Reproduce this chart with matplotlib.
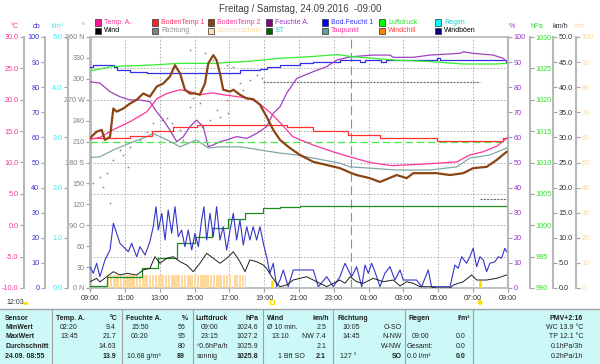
import matplotlib
matplotlib.use('Agg')
import matplotlib.pyplot as plt
from matplotlib.patches import Rectangle, Ellipse

plt.rcParams['font.family'] = ['Liberation Sans', 'DejaVu Sans']

# ---------------- data (hours after 09:00 Friday) ----------------
hour_ticks = list(range(0, 25, 2))
hour_labels = ['09:00', '11:00', '13:00', '15:00', '17:00', '19:00', '21:00',
               '23:00', '01:00', '03:00', '05:00', '07:00', '09:00']

temp_t = [0, 0.57, 1.32, 2.3, 3.27, 3.85, 4.42, 5.17, 5.74, 6.31, 7.06, 7.63, 8.44, 9.18,
          9.76, 10.33, 10.9, 11.65, 12.8, 13.95, 14.93, 16.07, 17.33, 19.5, 21.07, 21.8,
          22.56, 23.36, 23.94]
temp_v = [13.7, 14.0, 15.2, 16.5, 18.1, 20.2, 21.0, 21.6, 21.3, 20.8, 21.1, 20.8, 20.5, 20.2,
          19.3, 18.0, 16.4, 14.1, 12.8, 11.7, 10.9, 10.0, 9.5, 9.8, 10.1, 11.2, 11.7, 12.6, 13.9]

soil1_t = [0, 2.3, 3.54, 4.78, 6.12, 11.29, 12.82, 14.83, 16.65, 19.9, 23.7, 24]
soil1_v = [13.9, 14.3, 15.0, 15.6, 16.0, 15.6, 15.0, 14.4, 13.9, 13.4, 13.9, 13.9]

soil2_t = [0, 0.38, 0.67, 0.86, 1.15, 1.34, 1.53, 1.91, 2.3, 2.68, 3.06, 3.44, 3.83, 4.21,
           4.59, 4.88, 5.17, 5.45, 5.74, 6.03, 6.31, 6.6, 6.79, 7.08, 7.27, 7.46, 7.65, 8.04,
           8.23, 8.61, 9.0, 9.37, 9.76, 10.14, 10.52, 10.91, 11.48, 12.06, 12.82, 13.59,
           14.35, 14.93, 15.31, 16.07, 16.65, 17.61, 18.18, 18.56, 19.9, 20.67, 21.43, 22.0,
           22.77, 23.35, 23.92]
soil2_v = [13.9, 14.9, 15.2, 13.6, 14.1, 18.6, 18.1, 18.6, 19.4, 20.0, 21.0, 20.5, 22.1, 22.6,
           23.7, 25.5, 24.2, 21.6, 21.0, 21.0, 20.8, 22.6, 25.8, 27.1, 26.3, 24.2, 21.6, 21.3,
           21.6, 20.8, 20.2, 20.1, 19.2, 17.3, 15.2, 13.6, 12.3, 11.2, 10.1, 9.6,
           9.1, 8.4, 8.0, 7.5, 6.9, 8.0, 7.5, 8.3, 8.3, 8.0, 8.3, 9.1,
           9.3, 10.4, 11.7]

dew_t = [0, 0.57, 1.34, 2.3, 3.25, 3.63, 4.21, 4.78, 5.17, 6.12, 6.79, 7.46, 8.61, 9.76,
         10.91, 11.87, 12.82, 14.35, 14.93, 16.07, 17.61, 19.52, 21.05, 21.81, 22.96, 23.92]
dew_v = [10.8, 10.9, 12.0, 13.1, 14.1, 14.6, 13.9, 13.1, 12.5, 13.6, 12.3, 12.5, 12.5, 12.0,
         11.5, 11.2, 10.7, 9.9, 9.3, 9.1, 8.8, 8.8, 9.3, 10.7, 11.2, 12.3]

hum_t = [0, 0.57, 1.15, 1.72, 2.3, 2.87, 3.44, 3.83, 4.21, 4.59, 4.98, 5.36, 5.74, 6.12, 6.5,
         6.79, 7.08, 7.46, 7.85, 8.42, 9.0, 9.57, 10.14, 10.52, 10.91, 11.29, 11.87, 12.82,
         13.59, 14.16, 14.93, 16.26, 17.22, 17.41, 18.56, 19.52, 21.24, 21.43, 22.0, 23.15,
         23.73, 23.92]
hum_v = [82.2, 81.6, 78.2, 76.2, 74.9, 74.9, 74.2, 70.2, 66.9, 62.9, 58.3, 60.3, 64.3, 66.9, 64.3,
         56.3, 57.0, 58.3, 59.0, 60.3, 59.6, 61.6, 64.3, 69.6, 72.2, 77.6, 83.5, 86.2,
         88.2, 90.8, 92.1, 92.8, 92.8, 91.9, 91.9, 92.8, 93.5, 94.1, 93.5, 92.8,
         91.5, 90.2]

soilm_t = [0, 0.2, 1.35, 1.55, 2.1, 2.3, 3.25, 8.4, 8.6, 9.75, 10.15, 10.9, 12.05, 12.8,
           14.35, 15.5, 15.8, 16.7, 17.0, 19.9, 20.1, 23.7, 23.9, 24]
soilm_v = [88.2, 88.8, 88.2, 86.9, 86.9, 86.2, 85.5, 85.5, 86.9, 87.1, 88.2, 88.8, 89.5, 90.2,
           90.8, 90.2, 90.8, 90.2, 90.8, 91.5, 90.8, 90.8, 90.2, 90.2]

press_t = [0, 1.3, 3.25, 5.16, 7.06, 9.0, 10.9, 12.8, 14.25, 14.93, 16.3, 17.6, 19.5, 21.4, 23.3, 24]
press_v = [1024.6, 1025.3, 1025.5, 1025.8, 1025.8, 1026.1, 1026.6, 1026.9, 1027.2, 1026.9,
           1026.6, 1026.3, 1026.1, 1025.7, 1025.7, 1025.8]
press_std = 1013.25

et_t = [0, 0.96, 2.97, 3.92, 4.98, 6.03, 6.99, 7.94, 8.9, 9.95, 10.9, 12.06, 24]
et_v = [0.04, 0.225, 0.39, 0.59, 0.89, 1.02, 1.19, 1.37, 1.50, 1.59, 1.62, 1.63, 1.63]

rain_t = [0, 24]
rain_v = [0.0, 0.0]

wind_t = [0, 0.19, 0.38, 0.57, 0.96, 1.34, 1.72, 2.11, 2.68, 3.06, 3.44, 3.73, 4.02, 4.4,
          4.78, 5.17, 5.55, 5.93, 6.31, 6.7, 7.08, 7.46, 7.85, 8.23, 8.61, 8.9, 9.18, 9.57,
          9.95, 10.14, 10.43, 10.72, 10.91, 11.29, 11.67, 12.06, 12.44, 12.82, 13.2, 13.59,
          13.97, 14.35, 14.64, 14.93, 15.31, 15.69, 16.26, 16.84, 17.41, 17.8, 18.18, 18.56,
          18.94, 19.52, 19.9, 20.67, 20.86, 21.43, 21.91, 22.2, 22.77, 23.35, 23.92]
wind_v = [1.25, 1.59, 1.93, 1.2, 2.25, 3.25, 2.59, 2.93, 2.59, 3.59, 3.92, 6.23, 4.92, 5.92,
          6.23, 5.24, 4.58, 3.25, 4.92, 6.91, 5.92, 4.92, 5.92, 7.23, 5.24, 3.25, 5.58, 5.24,
          4.58, 3.92, 2.25, 0.94, 0.26, 0.6, 1.59, 1.93, 2.25, 1.59, 0.94, 0.26,
          0.94, 1.59, 0.94, 2.25, 1.25, 0.94, 1.93, 1.25, 1.59, 0.4, 1.25, 0.94,
          0.26, 0.26, 0.0, 0.0, 0.6, 1.25, 2.59, 1.59, 1.59, 1.93, 2.59]

gust_t = [0, 0.19, 0.38, 0.57, 0.86, 1.15, 1.34, 1.53, 1.72, 1.91, 2.2, 2.39, 2.68, 2.87, 3.16,
          3.44, 3.63, 3.79, 3.92, 4.12, 4.31, 4.49, 4.69, 4.88, 5.07, 5.26, 5.45, 5.64, 5.84,
          6.03, 6.22, 6.41, 6.54, 6.7, 6.89, 7.08, 7.27, 7.46, 7.65, 7.85, 8.04, 8.23, 8.42,
          8.61, 8.8, 9.0, 9.18, 9.37, 9.57, 9.76, 9.95, 10.14, 10.33, 10.52, 10.72, 10.91,
          11.1, 11.38, 11.67, 12.82, 13.11, 13.59, 13.97, 14.35, 14.64, 14.83, 15.02, 15.31,
          15.6, 15.79, 15.98, 16.17, 16.36, 16.65, 16.93, 17.22, 17.51, 17.8, 17.99, 18.75,
          19.04, 19.42, 19.61, 20.67, 20.95, 21.14, 21.34, 21.62, 21.81, 22.0, 22.2, 22.39,
          22.58, 22.77, 22.96, 23.25, 23.44, 23.63, 23.82, 23.92]
gust_v = [4.24, 2.93, 4.92, 2.25, 5.58, 7.57, 12.89, 10.9, 8.9, 8.23, 7.23, 8.9, 6.23, 8.23, 6.57,
          9.22, 12.21, 16.2, 11.55, 14.88, 9.56, 15.54, 10.9, 16.2, 10.22, 11.55, 8.23, 11.55, 7.57,
          10.9, 8.23, 13.55, 16.2, 9.56, 14.88, 10.22, 16.2, 9.56, 12.21, 7.57, 11.55, 14.88, 9.56,
          13.55, 8.57, 12.21, 9.56, 12.21, 9.56, 12.21, 8.9, 6.23, 2.93, 4.92, 0.26, 1.59,
          3.59, 0.26, 3.59, 3.59, 0.26, 2.25, 0.26, 2.25, 4.92, 3.59, 2.25, 4.24,
          0.26, 4.58, 2.93, 4.92, 3.25, 0.26, 2.93, 4.24, 1.59, 3.59, 1.59, 1.59,
          0.26, 3.59, 0.26, 0.26, 4.58, 3.92, 6.23, 4.92, 6.23, 7.91, 4.24, 6.23,
          5.58, 3.25, 4.92, 5.24, 6.23, 5.92, 7.91, 7.23]

dir_t = [0.17, 0.57, 0.75, 0.98, 1.15, 1.32, 1.72, 1.89, 2.18, 2.3, 2.87, 3.27, 3.62, 4.13,
         4.42, 4.71, 5.17, 5.34, 5.74, 5.74, 5.91, 6.31, 6.43, 6.6, 6.89, 7.06, 7.29, 7.46,
         7.86, 7.86, 7.92, 8.21, 8.44, 8.61, 8.78, 9.18, 9.59, 9.87]
dir_v = [150, 159, 145, 165, 122, 184, 198, 191, 174, 202, 212, 224, 237, 241,
         244, 237, 227, 212, 260, 341, 272, 265, 231, 337, 241, 327, 255, 245,
         320, 270, 251, 317, 280, 294, 284, 298, 305, 301]
dir_calm_t = [9.95, 22.4]
dir_calm_v = [296, 296]
dir_end_t = [22.4, 24]
dir_end_v = [127, 127]

sun_start_h = 0.95  # first 5-minute slot with sunshine
sun_minutes = [5, 5, 5, 5, 5, 5, 5, 5, 5, 5, 5, 5, 5, 5, 5, 5, 5, 5, 5, 5, 5, 5, 5, 5,
               5, 5, 5, 5, 5, 5, 5, 5, 5, 5, 5, 5, 5, 5, 5, 5, 5, 5, 5, 5, 5, 5, 5, 5,
               5, 5, 5, 5, 5, 5, 5, 5, 5, 5, 5, 5, 5, 5, 5, 5, 5, 5, 5, 5, 5, 5, 5, 5,
               5, 5, 5, 5, 5, 5, 5, 5, 5, 5, 5, 5, 5, 5, 0, 0, 5, 5, 5, 5, 5, 5, 5, 5]
sunset_h, sunrise_h = 10.43, 22.39

# ---------------- figure ----------------
W, H = 600, 364
fig = plt.figure(figsize=(6, 3.64), dpi=100)


def fx(x):
    return x / W


def fy(y):
    return 1 - y / H


L, R, T, B = 90, 508, 37, 288
ax = fig.add_axes([fx(L), fy(B), (R - L) / W, (B - T) / H])
ax.set_xlim(0, 24)
ax.set_ylim(0, 360)
GRAY = '#b8b8b8'
for s in ax.spines.values():
    s.set_color(GRAY)
    s.set_linewidth(1.2)
ax.spines['left'].set_linewidth(2)
ax.set_xticks(hour_ticks)
ax.set_xticklabels(hour_labels)
ax.set_yticks(range(0, 361, 30))
ax.set_yticklabels(['0 N', '30', '60', '90 O', '120', '150', '180 S', '210', '240',
                    '270 W', '300', '330', '360 N'])
ax.tick_params(axis='both', colors='#a0a0a0', labelsize=5.2, length=3, width=0.8, pad=1)
ax.tick_params(axis='y', labelcolor='#808080')
ax.tick_params(axis='x', labelcolor='#303030', pad=2)
for v in range(45, 360, 45):
    ax.axhline(v, color='#a8a8a8', lw=0.6, ls=(0, (2, 2)), zorder=0)
for h in range(2, 24, 2):
    ax.axvline(h, color='#a8a8a8', lw=0.6, ls=(0, (2, 2)), zorder=0)
ax.axvline(15, color='#909090', lw=0.8, ls=(0, (8, 4)), zorder=0)


def twin(ylim, side, pos, color, ticks, fmt):
    a = ax.twinx()
    a.set_ylim(*ylim)
    a.patch.set_visible(False)
    for s in a.spines.values():
        s.set_visible(False)
    sp = a.spines[side]
    sp.set_visible(True)
    sp.set_position(('axes', pos))
    sp.set_color(GRAY)
    sp.set_linewidth(1.5)
    a.yaxis.set_ticks_position(side)
    a.yaxis.set_label_position(side)
    a.set_yticks(ticks)
    a.set_yticklabels([fmt.format(v) for v in ticks])
    a.tick_params(axis='y', colors='#a0a0a0', labelcolor=color, labelsize=5.2,
                  length=3, width=0.8, pad=1)
    return a


def px(p):
    return (p - L) / (R - L)


a_min = twin((0, 100), 'right', px(576), '#FFD89B', list(range(0, 101, 10)), '{:d}')
a_rain = twin((0, 5), 'left', px(68), '#30F0F0', [0, 1, 2, 3, 4, 5], '{:.1f}')
a_wind = twin((0, 50), 'right', px(553), '#303030', list(range(0, 51, 5)), '{:.1f}')
a_cb = twin((0, 100), 'left', px(45), '#3333CC', list(range(0, 101, 10)), '{:d}')
a_hum = twin((0, 100), 'right', px(508), '#9933CC', list(range(0, 101, 10)), '{:d}')
a_hpa = twin((990, 1030), 'right', px(530), '#33DD33', list(range(990, 1031, 5)), '{:d}')
a_temp = twin((-10, 30), 'left', px(24), '#FF3399', list(range(-10, 31, 5)), '{:.1f}')

# sunshine bars
sun_x = [sun_start_h + (i + 0.5) * 5 / 60 for i in range(len(sun_minutes))]
a_min.bar(sun_x, sun_minutes, width=5 / 60 * 0.78, color='#FFD89B', lw=0, zorder=1)

# ET & rain
a_rain.plot(et_t, et_v, drawstyle='steps-post', color='#1E8C1E', lw=0.9)
a_rain.plot(rain_t, rain_v, color='#00E0E0', lw=0.8)

# wind
a_wind.plot(gust_t, gust_v, color='#3434C8', lw=0.8)
a_wind.plot(wind_t, wind_v, color='#202020', lw=0.7)
a_wind.plot([sunset_h, sunset_h], [0, 1.2], color='#FFE000', lw=2.2)
a_wind.plot([sunrise_h, sunrise_h], [0, 1.2], color='#FFE000', lw=2.2)

# direction
ax.plot(dir_t, dir_v, ls='none', marker='s', ms=1.1, color='#808080', mew=0)
ax.plot(dir_calm_t, dir_calm_v, color='#707070', lw=0.8, ls=(0, (2, 1)))
ax.plot(dir_end_t, dir_end_v, color='#707070', lw=0.8, ls=(0, (2, 1)))

# soil moisture
a_cb.plot(soilm_t, soilm_v, drawstyle='steps-post', color='#3030E0', lw=0.9)
# humidity
a_hum.plot(hum_t, hum_v, color='#A040C0', lw=0.9)
# pressure
a_hpa.axhline(press_std, color='#44EE44', lw=0.9, ls=(0, (6, 3)))
a_hpa.plot(press_t, press_v, color='#33EE33', lw=0.9)
# temperatures
a_temp.plot(dew_t, dew_v, color='#80A8A8', lw=0.9)
a_temp.plot(soil1_t, soil1_v, drawstyle='steps-post', color='#FF3030', lw=0.9)
a_temp.plot(temp_t, temp_v, color='#FF3399', lw=0.9)
a_temp.plot(soil2_t, soil2_v, color='#8B4513', lw=1.6)

# ---------------- texts ----------------
fig.text(0.5, fy(9), 'Freitag / Samstag, 24.09.2016  -09:00', ha='center', va='center',
         fontsize=6.9, color='#404040')

axis_titles = [(15, '°C', '#FF3399'), (37, 'cb', '#3333CC'), (58, 'l/m²', '#30F0F0'),
               (83, '°', '#808080'), (512, '%', '#9933CC'), (537, 'hPa', '#33DD33'),
               (560, 'km/h', '#303030'), (579, 'min', '#FFD89B')]
for x, t, c in axis_titles:
    fig.text(fx(x), fy(27), t, ha='center', va='center', fontsize=5.2, color=c)

legend = [
    (98, 22.5, '#FF1493', 'Temp. A.', '#FF3399'),
    (155, 22.5, '#FF2020', 'BodenTemp 1', '#FF3060'),
    (211, 22.5, '#8B4513', 'BodenTemp 2', '#FF3399'),
    (269, 22.5, '#800080', 'Feuchte A.', '#9933CC'),
    (325, 22.5, '#0000FF', 'Bod.Feucht 1', '#3333FF'),
    (382, 22.5, '#00FF00', 'Luftdruck', '#33DD33'),
    (438, 22.5, '#00FFFF', 'Regen', '#00DDDD'),
    (98, 31, '#000000', 'Wind', '#000000'),
    (155, 31, '#808080', 'Richtung', '#909090'),
    (211, 31, '#FFDEAD', 'Sonnenschein', '#FFD89B'),
    (269, 31, '#006400', 'ET', '#30CCCC'),
    (325, 31, '#5F9EA0', 'Taupunkt', '#FF3399'),
    (382, 31, '#FF8000', 'Windchill', '#FF4040'),
    (438, 31, '#000080', 'Windböen', '#000000'),
]
for x, y, fc, t, tc in legend:
    fig.patches.append(Rectangle((fx(x - 3), fy(y + 3)), 6 / W, 6 / H, transform=fig.transFigure,
                                 facecolor=fc, edgecolor='#303030', lw=0.5))
    fig.text(fx(x + 6), fy(y), t, ha='left', va='center', fontsize=5, color=tc)

# day length + sun markers
fig.text(fx(6), fy(302.5), '12:03', ha='left', va='center', fontsize=5, color='#303030')
fig.patches.append(Ellipse((fx(26), fy(303.5)), 5 / W, 3 / H, transform=fig.transFigure,
                           facecolor='#FFE000', edgecolor='none'))
fig.patches.append(Rectangle((fx(L + sunset_h * 17.42 - 2), fy(304)), 4 / W, 4 / H,
                             transform=fig.transFigure, facecolor='none', edgecolor='#FFE000', lw=0.8))
fig.patches.append(Ellipse((fx(L + sunrise_h * 17.42), fy(302.5)), 5 / W, 5 / H,
                           transform=fig.transFigure, facecolor='#FFE000', edgecolor='none'))

# ---------------- table ----------------
fig.patches.append(Rectangle((0, 0), 1, fy(309), transform=fig.transFigure,
                             facecolor='#CCF8F8', edgecolor='none'))
fig.add_artist(plt.Line2D([0, 1], [fy(309), fy(309)], transform=fig.transFigure,
                          color='#a0a0a0', lw=1))
for x in [52, 122, 193, 263, 333, 405, 473]:
    fig.add_artist(plt.Line2D([fx(x), fx(x)], [fy(310), 0], transform=fig.transFigure,
                              color='#a0a0a0', lw=0.8))

rows = [318, 327.5, 337, 346, 356]
cells = [
    (0, 5, 'Sensor', 'l', 1), (0, 56, 'Temp. A.', 'l', 1), (0, 118, '°C', 'r', 1),
    (0, 126, 'Feuchte A.', 'l', 1), (0, 188, '%', 'r', 1), (0, 196, 'Luftdruck', 'l', 1),
    (0, 259, 'hPa', 'r', 1), (0, 267, 'Wind', 'l', 1), (0, 329, 'km/h', 'r', 1),
    (0, 337, 'Richtung', 'l', 1), (0, 408, 'Regen', 'l', 1), (0, 470, 'l/m²', 'r', 1),
    (0, 583, 'PMV+2:16', 'r', 1),
    (1, 5, 'MinWert', 'l', 1), (1, 60, '02:20', 'l', 0), (1, 116, '9.4', 'r', 0),
    (1, 131, '15:50', 'l', 0), (1, 185, '56', 'r', 0), (1, 201, '09:00', 'l', 0),
    (1, 258, '1024.6', 'r', 0), (1, 267, 'Ø 10 min.', 'l', 0), (1, 326, '2.5', 'r', 0),
    (1, 342, '10:05', 'l', 0), (1, 402, 'O-SO', 'r', 0), (1, 583, 'WC 13.9 °C', 'r', 0),
    (2, 5, 'MaxWert', 'l', 1), (2, 60, '13:45', 'l', 0), (2, 116, '21.7', 'r', 0),
    (2, 131, '06:20', 'l', 0), (2, 185, '95', 'r', 0), (2, 201, '23:15', 'l', 0),
    (2, 258, '1027.2', 'r', 0), (2, 271, '13:10', 'l', 0), (2, 326, 'NW 7.4', 'r', 0),
    (2, 342, '14:45', 'l', 0), (2, 402, 'N-NW', 'r', 0), (2, 412, '09:00', 'l', 0),
    (2, 466, '0.0', 'r', 0), (2, 583, 'TP 12.1 °C', 'r', 0),
    (3, 5, 'Durchschnitt', 'l', 1), (3, 116, '14.63', 'r', 0), (3, 185, '80', 'r', 0),
    (3, 197, '^0.6hPa/h', 'l', 0), (3, 258, '1025.9', 'r', 0), (3, 326, '2.1', 'r', 0),
    (3, 402, 'W-NW', 'r', 0), (3, 407, 'Gesamt:', 'l', 0), (3, 466, '0.0', 'r', 0),
    (3, 583, '0.1hPa/3h', 'r', 0),
    (4, 5, '24.09. 08:55', 'l', 1), (4, 116, '13.9', 'r', 1), (4, 127, '10.68 g/m³', 'l', 0),
    (4, 185, '89', 'r', 1), (4, 197, 'sonnig', 'l', 0), (4, 258, '1025.8', 'r', 1),
    (4, 278, '1 Bft SO', 'l', 0), (4, 326, '2.1', 'r', 1), (4, 340, '127 °', 'l', 0),
    (4, 402, 'SO', 'r', 1), (4, 407, '0.0 l/m²', 'l', 0), (4, 466, '0.0', 'r', 1),
    (4, 583, '0.2hPa/1h', 'r', 0),
]
for r, x, t, al, bold in cells:
    fig.text(fx(x), fy(rows[r]), t, ha='left' if al == 'l' else 'right', va='center',
             fontsize=5, color='#202020', fontweight='bold' if bold else 'normal')

fig.savefig('out.png', dpi=100, facecolor='white')
